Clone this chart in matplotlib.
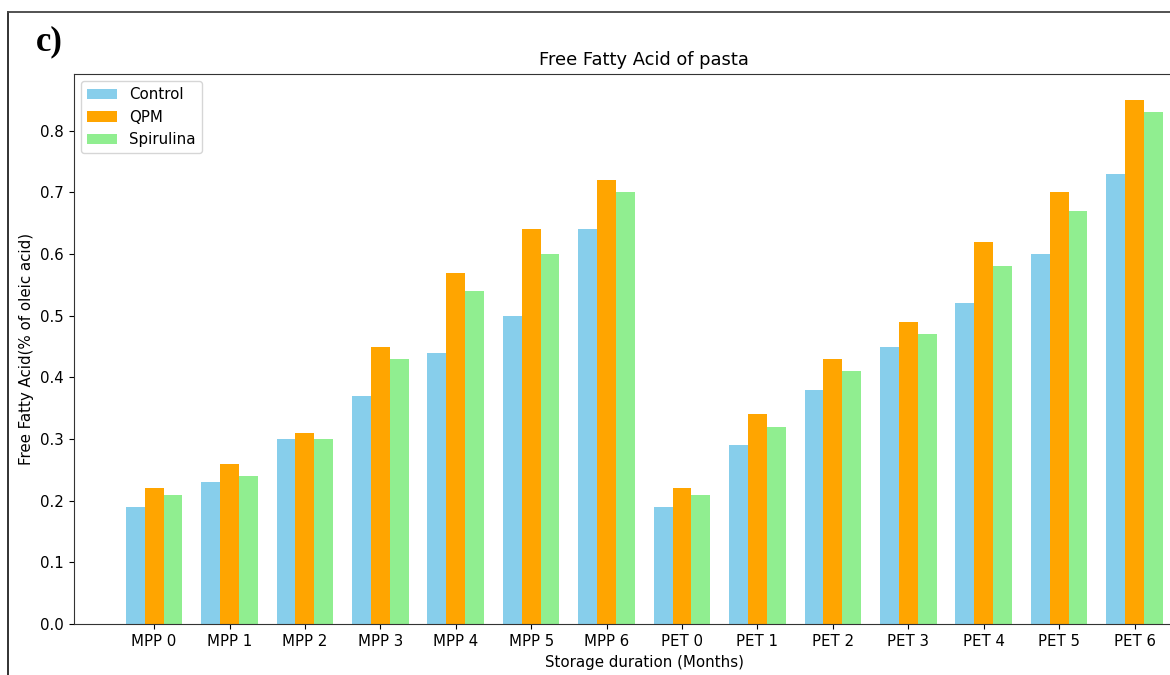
import numpy as np
import matplotlib.pyplot as plt
from matplotlib.lines import Line2D

storage = ["MPP 0", "MPP 1", "MPP 2", "MPP 3", "MPP 4", "MPP 5", "MPP 6",
           "PET 0", "PET 1", "PET 2", "PET 3", "PET 4", "PET 5", "PET 6"]
control = [0.19, 0.23, 0.30, 0.37, 0.44, 0.50, 0.64,
           0.19, 0.29, 0.38, 0.45, 0.52, 0.60, 0.73]
qpm = [0.22, 0.26, 0.31, 0.45, 0.57, 0.64, 0.72,
       0.22, 0.34, 0.43, 0.49, 0.62, 0.70, 0.85]
spirulina = [0.21, 0.24, 0.30, 0.43, 0.54, 0.60, 0.70,
             0.21, 0.32, 0.41, 0.47, 0.58, 0.67, 0.83]

plt.rcParams["font.size"] = 10.8
plt.rcParams["xtick.major.size"] = 3.8
plt.rcParams["ytick.major.size"] = 3.8
plt.rcParams["axes.labelpad"] = 4.0
plt.rcParams["axes.edgecolor"] = "#333333"

def generate_chart():
    fig = plt.figure(figsize=(11.7, 6.75), dpi=100)
    # plot area runs past the right edge of the panel
    ax = fig.add_axes([0.0632, 0.0756, 0.975, 0.815])

    x = np.arange(len(storage))
    width = 0.25
    ax.bar(x - width, control, width, color="skyblue", label="Control")
    ax.bar(x, qpm, width, color="orange", label="QPM")
    ax.bar(x + width, spirulina, width, color="lightgreen", label="Spirulina")

    ax.set_xticks(x)
    ax.set_xticklabels(storage)
    ax.set_xlabel("Storage duration (Months)")
    ax.set_ylabel("Free Fatty Acid(% of oleic acid)")
    ax.set_title("Free Fatty Acid of pasta", fontsize=12.9, pad=6.5)
    ax.legend(loc="upper left")

    # panel frame and letter
    fig.add_artist(Line2D([8 / 1170, 8 / 1170], [0, 1 - 12 / 675],
                          transform=fig.transFigure, color="#222222", lw=1.3))
    fig.add_artist(Line2D([8 / 1170, 1], [1 - 12 / 675, 1 - 12 / 675],
                          transform=fig.transFigure, color="#444444", lw=1.3))
    fig.text(36 / 1170, 1 - 42 / 675, "c)", fontsize=25, fontweight="bold",
             family="Liberation Serif", va="center", ha="left")

    fig.savefig("out.png", dpi=100)

generate_chart()
